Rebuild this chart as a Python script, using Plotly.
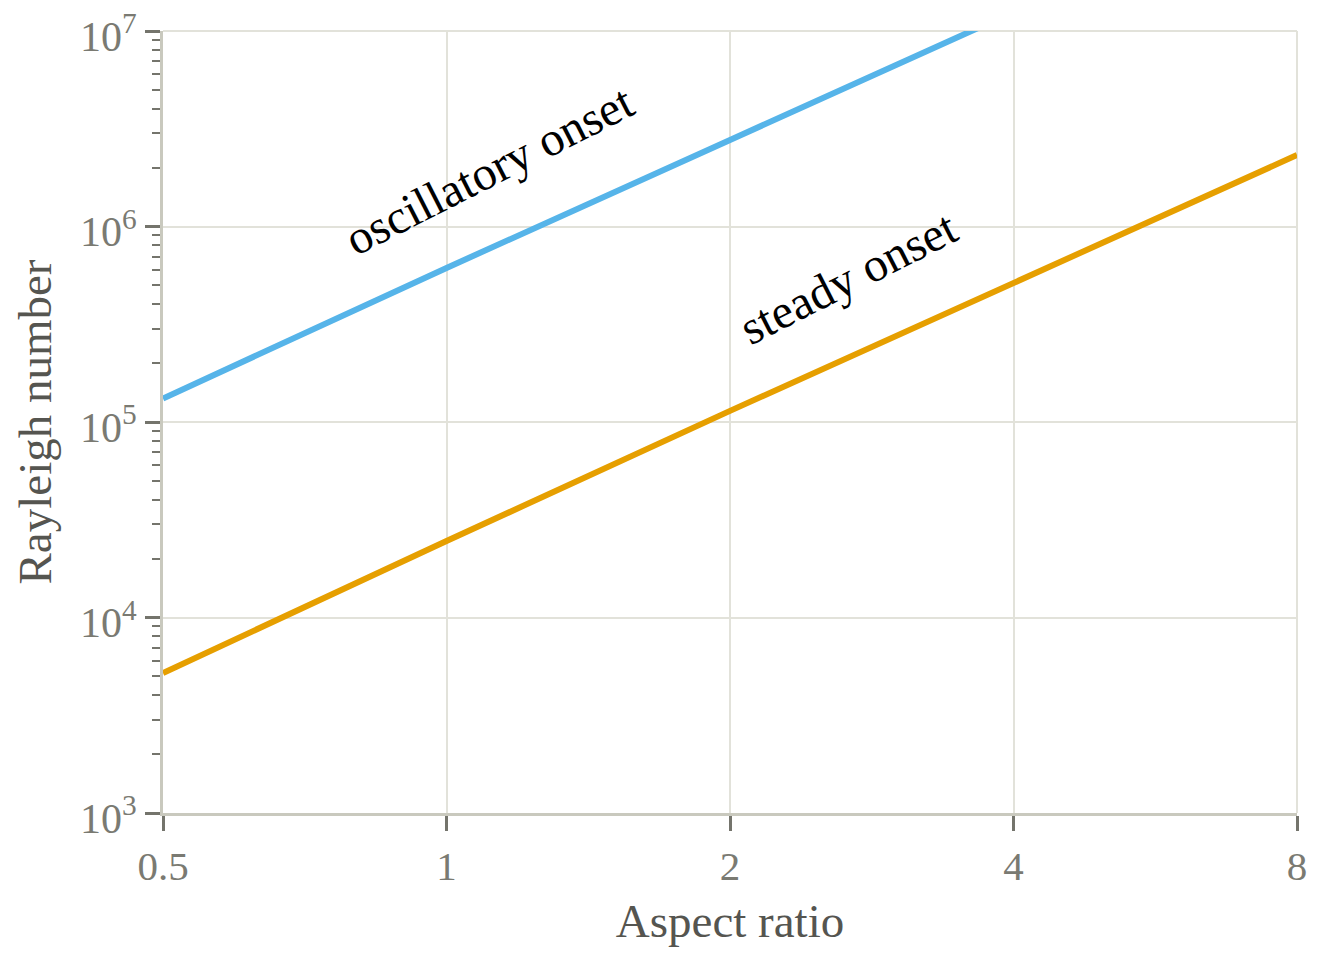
import math
import plotly.graph_objects as go

# aspect ratio values where the onset curves were read
aspect_ratio = [0.5, 1, 2, 4, 8]

# critical Rayleigh numbers
oscillatory_onset = [1.32e5, 6.14e5, 2.77e6, 1.25e7, 5.65e7]
steady_onset = [5.2e3, 2.46e4, 1.14e5, 5.14e5, 2.32e6]

x_ticks = [0.5, 1, 2, 4, 8]
x_tick_text = ["0.5", "1", "2", "4", "8"]
y_ticks = [1e3, 1e4, 1e5, 1e6, 1e7]
y_tick_text = ["10<sup>3</sup>", "10<sup>4</sup>", "10<sup>5</sup>", "10<sup>6</sup>", "10<sup>7</sup>"]

font_family = "Liberation Serif, Times New Roman, serif"
grid_color = "#e2e2da"
axis_color = "#c9c9be"
tick_color = "#74746c"

fig = go.Figure()

fig.add_trace(
    go.Scatter(
        x=aspect_ratio,
        y=oscillatory_onset,
        mode="lines",
        line=dict(color="#56B4E9", width=6),
        name="oscillatory onset",
    )
)
fig.add_trace(
    go.Scatter(
        x=aspect_ratio,
        y=steady_onset,
        mode="lines",
        line=dict(color="#E69F00", width=6),
        name="steady onset",
    )
)

# labels sitting along the lines (log axes -> positions in log10 units)
fig.add_annotation(
    x=math.log10(1.112), y=math.log10(1.95e6), xref="x", yref="y",
    xanchor="center", yanchor="middle",
    text="oscillatory onset", textangle=-27, showarrow=False,
    font=dict(family=font_family, size=48, color="black"),
)
fig.add_annotation(
    x=math.log10(2.67), y=math.log10(5.5e5), xref="x", yref="y",
    xanchor="center", yanchor="middle",
    text="steady onset", textangle=-27, showarrow=False,
    font=dict(family=font_family, size=48, color="black"),
)

# light frame on top and right, like the outer grid lines of the reference
fig.add_shape(type="line", xref="x domain", yref="y domain", x0=0, x1=1, y0=1, y1=1,
              line=dict(color=grid_color, width=2), layer="below")
fig.add_shape(type="line", xref="x domain", yref="y domain", x0=1, x1=1, y0=0, y1=1,
              line=dict(color=grid_color, width=2), layer="below")

# page body has an 8px margin, so the figure is a bit smaller than the window
fig.update_layout(
    width=1304,
    height=944,
    showlegend=False,
    plot_bgcolor="white",
    paper_bgcolor="white",
    margin=dict(l=155, r=15, t=23, b=139),
    font=dict(family=font_family, color="#7a7a72"),
    xaxis=dict(
        type="log",
        range=[math.log10(0.5), math.log10(8)],
        tickvals=x_ticks,
        ticktext=x_tick_text,
        ticks="outside",
        ticklen=15,
        tickwidth=3,
        tickcolor=tick_color,
        tickfont=dict(size=41, color="#7a7a72"),
        ticklabeloverflow="allow",
        showgrid=True,
        gridcolor=grid_color,
        gridwidth=2,
        showline=True,
        linecolor=axis_color,
        linewidth=3,
        zeroline=False,
        automargin=False,
        title=dict(text="Aspect ratio", font=dict(size=47, color="#555550"), standoff=16),
    ),
    yaxis=dict(
        type="log",
        range=[3, 7.0001],
        tickvals=y_ticks,
        ticktext=y_tick_text,
        ticks="outside",
        ticklen=15,
        tickwidth=3,
        tickcolor=tick_color,
        tickfont=dict(size=42, color="#7a7a72"),
        ticklabeloverflow="allow",
        ticklabelshift=5,
        minor=dict(ticks="outside", ticklen=8, tickwidth=2, tickcolor=tick_color, dtick="D1", showgrid=False),
        showgrid=True,
        gridcolor=grid_color,
        gridwidth=2,
        showline=True,
        linecolor=axis_color,
        linewidth=3,
        zeroline=False,
        automargin=False,
        title=dict(text="Rayleigh number", font=dict(size=47, color="#555550"), standoff=14),
    ),
)

fig.write_html("out.html")
